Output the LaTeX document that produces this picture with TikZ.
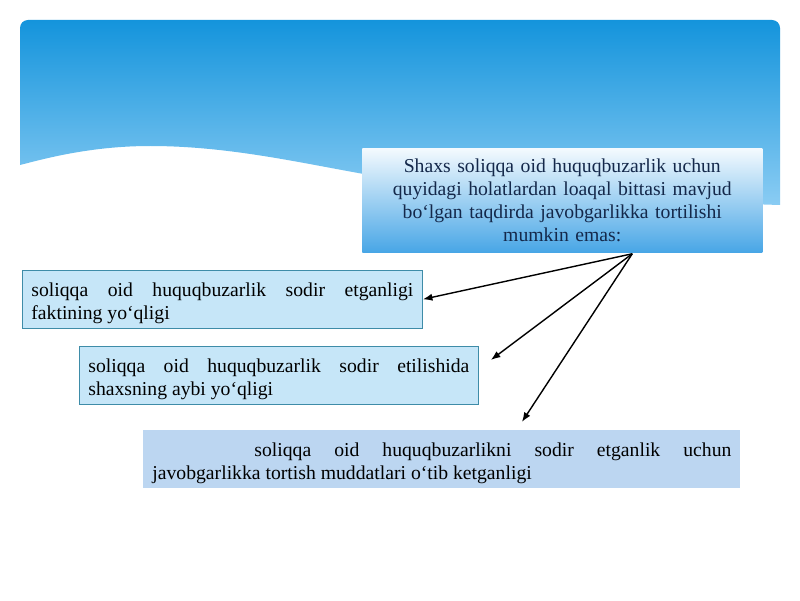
\documentclass[tikz,border=0pt]{standalone}
\usepackage{fontspec}
\setmainfont{Liberation Serif}
\usetikzlibrary{positioning,calc,arrows.meta}
\definecolor{skytop}{HTML}{1494DC}
\definecolor{skybot}{HTML}{8ACCF3}
\definecolor{headtop}{HTML}{F4FAFE}
\definecolor{headbot}{HTML}{48A6E6}
\definecolor{headtext}{HTML}{14284A}
\definecolor{boxfill}{HTML}{C6E6F8}
\definecolor{boxline}{HTML}{3E8CA8}
\definecolor{lastfill}{HTML}{BCD6F1}

\tikzset{
  txt/.style={font=\fontsize{14}{16.4}\selectfont},
  headbox/.style={txt, anchor=north west, minimum width=10cm, minimum height=2.6cm,
    text width=9.5cm, align=center, text=headtext, top color=headtop, bottom color=headbot},
  casebox/.style={txt, anchor=north west, draw=boxline, fill=boxfill, line width=.6pt,
    inner xsep=.225cm, minimum height=1.425cm, text height=15pt, align=justify},
  link/.style={-{Latex[length=2.4mm,width=1.8mm]}, line width=1pt}
}

\begin{document}
\begin{tikzpicture}
  \useasboundingbox[fill=white] (0,0) rectangle (20,15);
  % sky
  \shade[top color=skytop, bottom color=skybot]
    (0.5,10.875) [rounded corners=.2cm] -- (0.5,14.5) -- (19.5,14.5) [sharp corners] -- (19.5,9.875)
    .. controls (17,9.95) and (13,10.1) .. (10,10.5)
    .. controls (8,10.8) and (6,11.35) .. (3.75,11.35)
    .. controls (2.2,11.35) and (1,11.0) .. (0.5,10.875) -- cycle;

  \node[headbox] (head) at (9.05,11.3)
    {Shaxs soliqqa oid huquqbuzarlik uchun\\ quyidagi holatlardan loaqal bittasi mavjud\\
     bo‘lgan taqdirda javobgarlikka tortilishi\\ mumkin emas:};

  \node[casebox, text width=9.55cm] (case1) at (0.55,8.25)
    {soliqqa oid huquqbuzarlik sodir etganligi\linebreak faktining yo‘qligi};
  \node[casebox, text width=9.525cm] (case2) at (1.975,6.35)
    {soliqqa oid huquqbuzarlik sodir etilishida\linebreak shaxsning aybi yo‘qligi};
  \node[casebox, draw=none, fill=lastfill, text width=14.475cm, minimum height=1.35cm] (case3) at (3.575,4.25)
    {\hspace*{2.55cm}soliqqa oid huquqbuzarlikni sodir etganlik uchun\linebreak
     javobgarlikka tortish muddatlari o‘tib ketganligi};

  \coordinate (src) at ($(head.south)+(1.75,-0.03)$);
  \coordinate (tip2) at ($(case2.north east)+(0.3,-0.35)$);
  \coordinate (tip3) at ($(case3.north)+(2.0,0.2)$);

  \draw[link] (src) -- (case1.east);
  \draw[link] (src) -- (tip2);
  \draw[link] (src) -- (tip3);
\end{tikzpicture}
\end{document}
